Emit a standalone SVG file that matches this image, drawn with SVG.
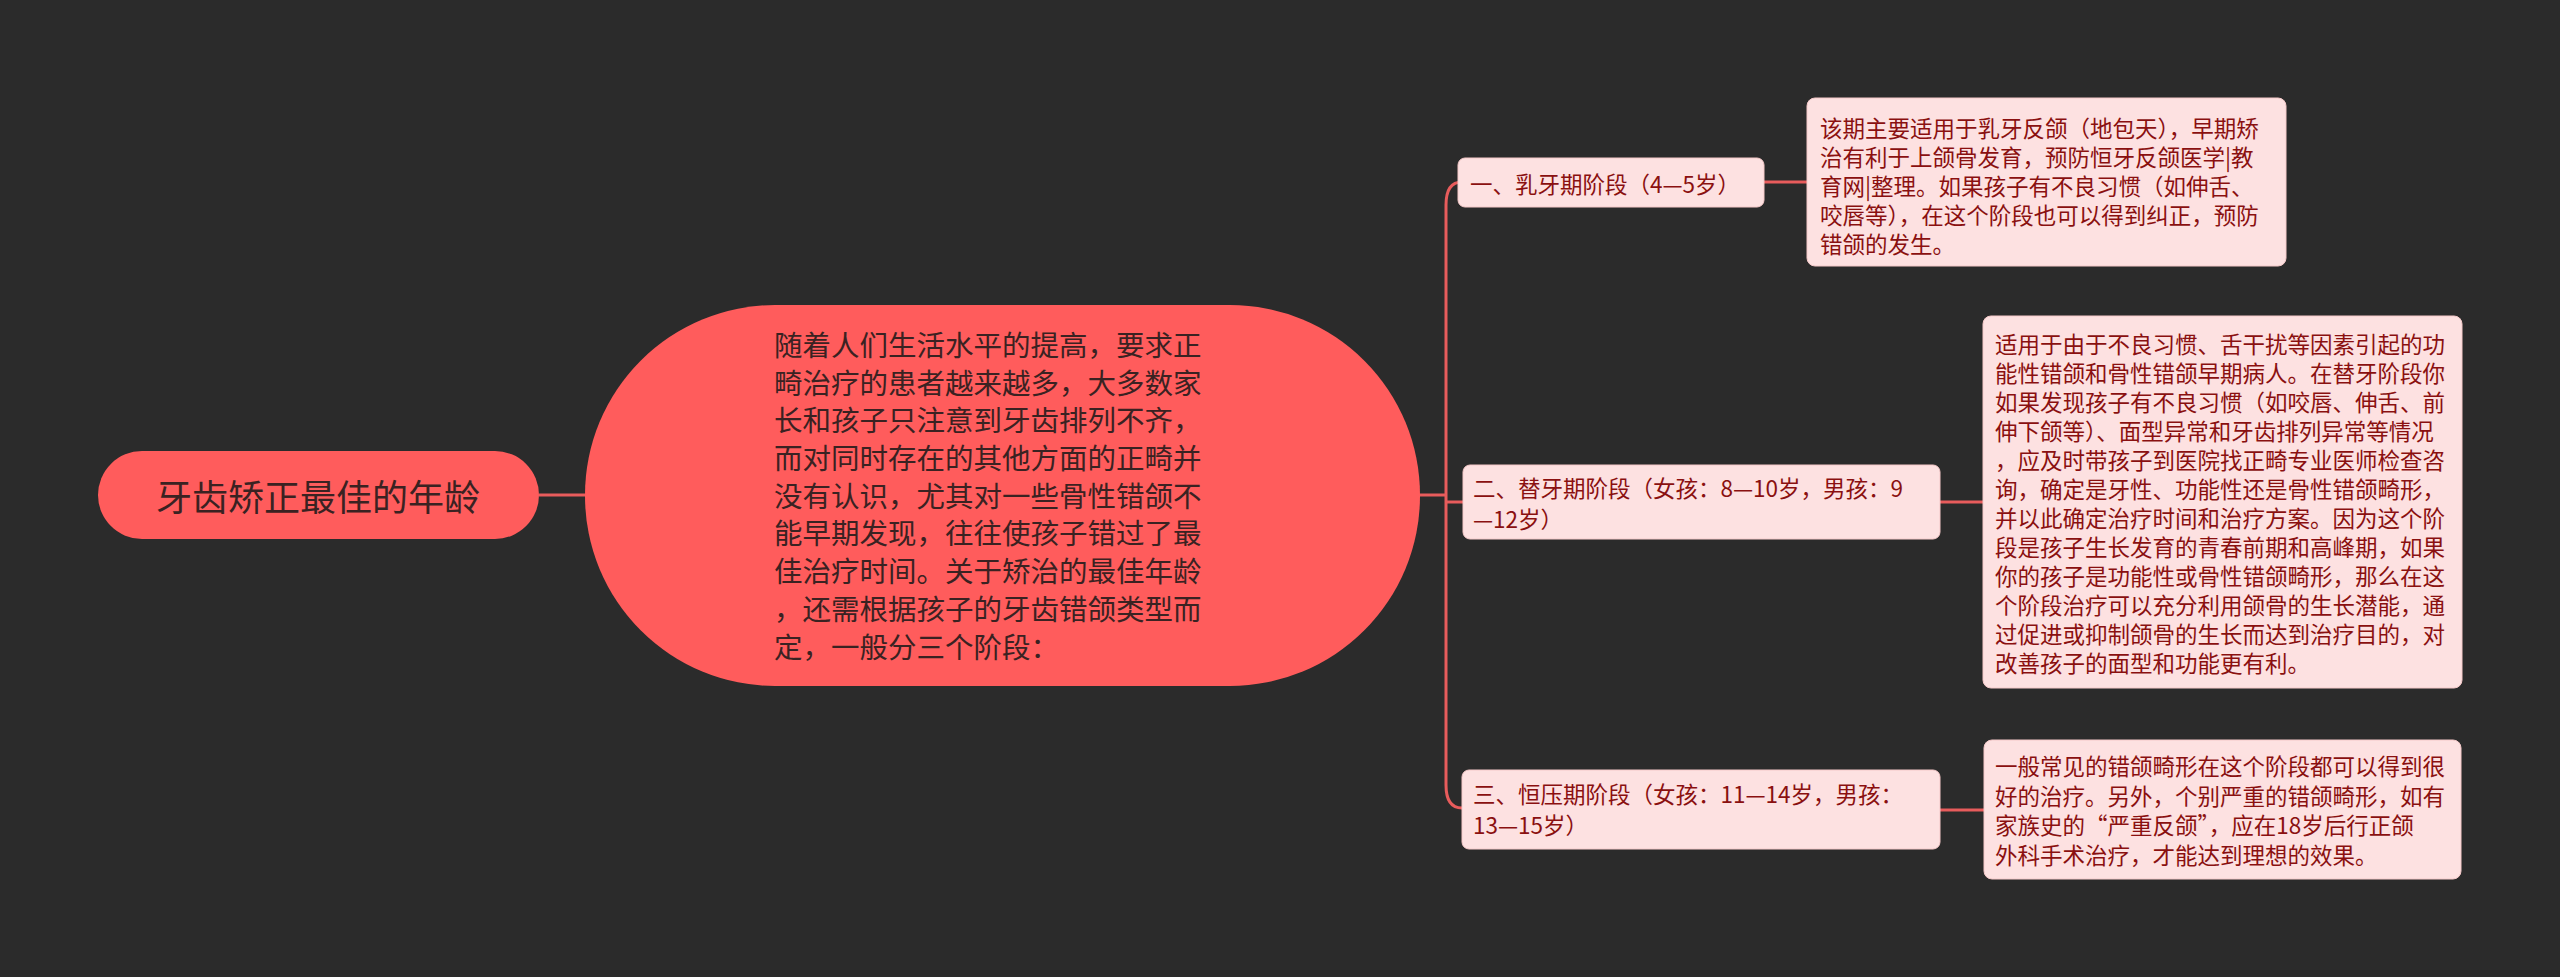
<svg xmlns="http://www.w3.org/2000/svg" width="2560" height="977" viewBox="0 0 2560 977">
<style>
text{font-family:"Noto Sans CJK SC","Liberation Sans",sans-serif;dominant-baseline:central}
.main{fill:#ff5c5c}
.box{fill:#fde1e1;stroke:#f5c9c9;stroke-width:1}
.bt{fill:#8a1010;font-size:22.5px}
.ct{fill:#3a2222;font-size:28.5px}
.con{fill:none;stroke:#e85c5c;stroke-width:3}
</style>
<rect width="2560" height="977" fill="#2b2b2b"/>
<g id="connectors">
<path class="con" d="M539 495H585"/>
<path class="con" d="M1420 495H1446M1446 495V205Q1446 182 1462 182"/>
<path class="con" d="M1446 495V785Q1446 808 1462 808"/>
<path class="con" d="M1446 502H1463"/>
<path class="con" d="M1764 182H1808"/>
<path class="con" d="M1940 502H1983"/>
<path class="con" d="M1940 810H1984"/>
</g>
<g id="root">
<rect class="main" x="98" y="451" width="441" height="88" rx="44"/>
<text x="318" y="495" text-anchor="middle" font-size="36" fill="#3a2222">牙齿矫正最佳的年龄</text>
</g>
<g id="center">
<rect class="main" x="585" y="305" width="835" height="381" rx="190"/>
<text class="ct" x="774" y="343">随着人们生活水平的提高，要求正</text>
<text class="ct" x="774" y="381">畸治疗的患者越来越多，大多数家</text>
<text class="ct" x="774" y="418">长和孩子只注意到牙齿排列不齐，</text>
<text class="ct" x="774" y="456">而对同时存在的其他方面的正畸并</text>
<text class="ct" x="774" y="494">没有认识，尤其对一些骨性错颌不</text>
<text class="ct" x="774" y="531">能早期发现，往往使孩子错过了最</text>
<text class="ct" x="774" y="569">佳治疗时间。关于矫治的最佳年龄</text>
<text class="ct" x="774" y="607">，还需根据孩子的牙齿错颌类型而</text>
<text class="ct" x="774" y="645">定，一般分三个阶段：</text>
</g>
<g id="b1">
<rect class="box" x="1458" y="158" width="306" height="49" rx="7"/>
<text class="bt" x="1470" y="183">一、乳牙期阶段（4—5岁）</text>
</g>
<g id="d1">
<rect class="box" x="1807" y="98" width="479" height="168" rx="8"/>
<text class="bt" x="1820" y="127">该期主要适用于乳牙反颌（地包天），早期矫</text>
<text class="bt" x="1820" y="156">治有利于上颌骨发育，预防恒牙反颌医学|教</text>
<text class="bt" x="1820" y="185">育网|整理。如果孩子有不良习惯（如伸舌、</text>
<text class="bt" x="1820" y="214">咬唇等），在这个阶段也可以得到纠正，预防</text>
<text class="bt" x="1820" y="243">错颌的发生。</text>
</g>
<g id="b2">
<rect class="box" x="1463" y="465" width="477" height="74" rx="7"/>
<text class="bt" x="1473" y="487">二、替牙期阶段（女孩：8—10岁，男孩：9</text>
<text class="bt" x="1473" y="518">—12岁）</text>
</g>
<g id="d2">
<rect class="box" x="1983" y="316" width="479" height="372" rx="8"/>
<text class="bt" x="1995" y="343">适用于由于不良习惯、舌干扰等因素引起的功</text>
<text class="bt" x="1995" y="372">能性错颌和骨性错颌早期病人。在替牙阶段你</text>
<text class="bt" x="1995" y="401">如果发现孩子有不良习惯（如咬唇、伸舌、前</text>
<text class="bt" x="1995" y="430">伸下颌等）、面型异常和牙齿排列异常等情况</text>
<text class="bt" x="1995" y="459">，应及时带孩子到医院找正畸专业医师检查咨</text>
<text class="bt" x="1995" y="488">询，确定是牙性、功能性还是骨性错颌畸形，</text>
<text class="bt" x="1995" y="517">并以此确定治疗时间和治疗方案。因为这个阶</text>
<text class="bt" x="1995" y="546">段是孩子生长发育的青春前期和高峰期，如果</text>
<text class="bt" x="1995" y="575">你的孩子是功能性或骨性错颌畸形，那么在这</text>
<text class="bt" x="1995" y="604">个阶段治疗可以充分利用颌骨的生长潜能，通</text>
<text class="bt" x="1995" y="633">过促进或抑制颌骨的生长而达到治疗目的，对</text>
<text class="bt" x="1995" y="662">改善孩子的面型和功能更有利。</text>
</g>
<g id="b3">
<rect class="box" x="1462" y="770" width="478" height="79" rx="7"/>
<text class="bt" x="1473" y="793">三、恒压期阶段（女孩：11—14岁，男孩：</text>
<text class="bt" x="1473" y="824">13—15岁）</text>
</g>
<g id="d3">
<rect class="box" x="1984" y="740" width="477" height="139" rx="8"/>
<text class="bt" x="1995" y="765">一般常见的错颌畸形在这个阶段都可以得到很</text>
<text class="bt" x="1995" y="795">好的治疗。另外，个别严重的错颌畸形，如有</text>
<text class="bt" x="1995" y="824">家族史的“严重反颌”，应在18岁后行正颌</text>
<text class="bt" x="1995" y="854">外科手术治疗，才能达到理想的效果。</text>
</g>
</svg>
